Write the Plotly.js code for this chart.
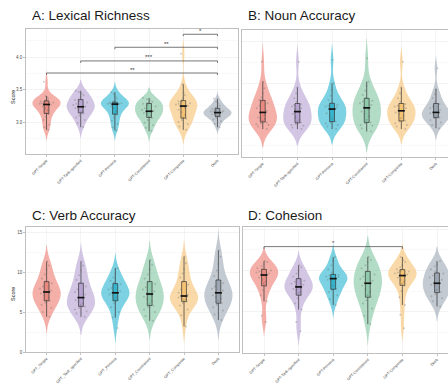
<!DOCTYPE html>
<html><head><meta charset="utf-8">
<script src="https://cdn.plot.ly/plotly-3.0.1.min.js"></script>
<style>html,body{margin:0;padding:0;background:#fff}</style>
</head><body><div id="chart" style="width:448px;height:385px"></div>
<script>
// ---------- categories / tick labels ----------
const groupsDash = ["GPT-Simple","GPT-Task-specified","GPT-Persona","GPT-Constrained","GPT-Composite","Deeb"];
const groupsUnderscore = ["GPT_Simple","GPT_Task_specified","GPT_Persona","GPT_Constrained","GPT_Composite","Deeb"];

// ---------- A: Lexical Richness ----------
const lexSimple = [2.88,2.92,2.96,3.03,3.08,3.12,3.14,3.18,3.21,3.24,3.26,3.27,3.27,3.28,3.29,3.30,3.31,3.32,3.33,3.34,3.36,3.38,3.40,3.62];
const lexTask = [2.92,2.98,3.03,3.07,3.10,3.13,3.15,3.17,3.19,3.21,3.22,3.23,3.24,3.26,3.28,3.30,3.32,3.34,3.35,3.38,3.41,3.44,3.46,3.48];
const lexPersona = [2.87,2.92,2.97,3.02,3.07,3.11,3.13,3.17,3.21,3.24,3.26,3.27,3.28,3.28,3.29,3.29,3.30,3.30,3.31,3.33,3.36,3.39,3.43,3.46];
const lexConstrained = [2.86,2.91,2.95,2.99,3.03,3.06,3.08,3.10,3.12,3.14,3.15,3.16,3.17,3.19,3.21,3.24,3.26,3.28,3.29,3.30,3.31,3.33,3.35,3.37];
const lexComposite = [2.88,2.93,2.97,3.00,3.03,3.05,3.07,3.11,3.15,3.19,3.22,3.24,3.25,3.27,3.28,3.29,3.31,3.32,3.34,3.37,3.41,3.45,3.58,4.05];
const lexDeeb = [2.92,2.97,3.01,3.04,3.06,3.08,3.09,3.10,3.11,3.12,3.13,3.14,3.15,3.16,3.16,3.17,3.18,3.20,3.22,3.23,3.25,3.28,3.31,3.36];

// ---------- B: Noun Accuracy ----------
const nounSimple = [4.5,4.8,5.0,5.1,5.2,5.3,5.5,5.7,5.8,5.9,6.2,6.5,6.7,7.0,7.3,7.6,7.8,8.0,8.3,8.8,9.4,10.2,12.6];
const nounTask = [4.5,4.7,4.9,5.0,5.1,5.3,5.4,5.6,5.9,6.3,6.6,6.8,7.0,7.2,7.4,7.5,7.8,8.2,8.8,9.5,12.6];
const nounPersona = [4.5,4.8,5.0,5.2,5.3,5.4,5.7,5.9,6.1,6.4,6.8,7.0,7.1,7.2,7.3,7.4,7.6,8.0,8.5,9.2,10.0,12.8];
const nounConstrained = [4.2,4.6,4.9,5.0,5.2,5.3,5.6,6.0,6.3,6.6,6.9,7.2,7.4,7.6,7.8,7.9,8.2,8.6,9.1,9.7,10.2,13.0];
const nounComposite = [4.5,4.8,5.0,5.2,5.4,5.5,5.8,6.1,6.3,6.5,6.7,6.9,7.0,7.2,7.3,7.5,7.8,8.2,8.8,9.5,12.6];
const nounDeeb = [4.6,5.0,5.3,5.6,5.8,5.9,6.0,6.1,6.2,6.4,6.5,6.6,6.8,7.0,7.2,7.5,7.8,8.2,8.7,9.3,11.8];

// ---------- C: Verb Accuracy ----------
const verbSimple = [4.4,5.0,5.5,5.9,6.2,6.4,6.5,6.8,7.1,7.3,7.4,7.6,7.7,7.9,8.2,8.6,8.8,9.2,9.7,10.3,10.8,11.3];
const verbTask = [4.4,4.8,5.1,5.3,5.5,5.7,5.9,6.1,6.3,6.5,6.7,6.9,7.2,7.5,7.8,8.2,8.6,9.0,9.6,10.2,10.8,11.3];
const verbPersona = [3.0,4.3,5.0,5.6,6.1,6.5,6.7,6.9,7.0,7.2,7.4,7.5,7.6,7.8,8.0,8.5,8.7,8.9,9.3,9.8,10.5];
const verbConstrained = [3.9,4.5,5.0,5.3,5.6,5.8,6.0,6.3,6.6,6.9,7.1,7.4,7.6,7.8,8.1,8.5,8.8,9.2,9.7,10.3,10.9,11.5];
const verbComposite = [3.2,4.6,5.3,5.8,6.1,6.3,6.5,6.6,6.7,6.8,6.9,7.1,7.2,7.4,7.8,8.4,8.8,9.3,9.8,10.4,11.1,11.9];
const verbDeeb = [4.0,4.7,5.2,5.6,5.9,6.1,6.4,6.7,6.9,7.1,7.3,7.5,7.7,7.9,8.2,8.6,9.0,9.5,10.2,11.0,11.9,12.7];

// ---------- D: Cohesion ----------
const cohSimple = [3.0,3.6,5.0,5.6,6.1,6.5,6.7,6.9,7.1,7.3,7.5,7.6,7.7,7.8,7.9,8.0,8.1,8.2,8.4,8.6,8.8,8.9];
const cohTask = [2.1,3.0,4.2,4.8,5.3,5.6,5.8,5.9,6.1,6.2,6.3,6.5,6.6,6.7,6.9,7.0,7.2,7.4,7.7,8.0,8.3,8.5];
const cohPersona = [4.65,5.2,5.6,5.9,6.1,6.2,6.5,6.8,7.0,7.1,7.2,7.3,7.35,7.4,7.5,7.55,7.8,8.1,8.5,8.9,9.3];
const cohConstrained = [2.8,3.6,4.3,4.8,5.1,5.4,5.6,5.9,6.2,6.5,6.7,6.8,7.0,7.2,7.4,7.6,7.9,8.2,8.5,8.8,9.0,9.3];
const cohComposite = [2.4,3.7,4.65,5.4,6.0,6.5,6.7,6.9,7.1,7.3,7.4,7.5,7.6,7.7,7.8,7.9,8.0,8.1,8.3,8.5,8.8,9.0,9.3];
const cohDeeb = [4.5,5.0,5.3,5.5,5.7,5.9,6.1,6.3,6.5,6.6,6.75,6.9,7.1,7.3,7.5,7.7,7.9,8.1,8.4,8.6,8.9];

// ---------- significance brackets ----------
const sigAFrom = [0,1,2,4];
const sigATo = [5,5,5,5];
const sigALevel = [3.754,3.94,4.15,4.35];
const sigALabel = ["**","***","**","*"];
const sigDFrom = [0];
const sigDTo = [4];
const sigDLevel = [10.3];
const sigDLabel = ["*"];

// ---------- styles ----------
const violinFill = ['rgba(239,141,131,0.7)','rgba(191,174,216,0.7)','rgba(69,191,214,0.7)','rgba(145,205,174,0.7)','rgba(248,201,131,0.7)','rgba(169,179,191,0.7)'];
const boxFill = ['#E98A80','#B7A3D2','#36B5CE','#8FCAAD','#F6C373','#9DA8B4'];
const FONT = 'Liberation Sans, Arial, sans-serif';

const traces = [];
const annotations = [];

function median(arr){
  const s = arr.slice().sort((a,b)=>a-b);
  const n = s.length;
  return n % 2 ? s[(n-1)/2] : (s[n/2-1]+s[n/2])/2;
}

function addPanel(xa, ya, cats, series){
  series.forEach((vals, i) => {
    traces.push({
      type:'violin', xaxis:xa, yaxis:ya,
      x: vals.map(()=>cats[i]), y: vals,
      spanmode:'soft', scalemode:'width', width:0.82,
      fillcolor: violinFill[i],
      line:{color:'rgba(0,0,0,0)', width:0},
      points:'all', pointpos:0, jitter:0.55,
      marker:{size:2, color:'rgba(100,100,100,0.3)', line:{width:0}},
      box:{visible:true, width:0.17, fillcolor: boxFill[i], line:{color:'#333333', width:0.7}},
      meanline:{visible:false},
      hoverinfo:'skip', showlegend:false
    });
  });
  traces.push({
    type:'scatter', mode:'markers', xaxis:xa, yaxis:ya,
    x: cats, y: series.map(median),
    marker:{symbol:'line-ew', size:5, line:{width:1.6, color:'#111'}},
    hoverinfo:'skip', showlegend:false
  });
}

function addBrackets(xa, ya, cats, from, to, level, labels, drop){
  from.forEach((a, k) => {
    const b = to[k], yv = level[k];
    traces.push({
      type:'scatter', mode:'lines', xaxis:xa, yaxis:ya,
      x:[cats[a],cats[a],cats[b],cats[b]],
      y:[yv-drop, yv, yv, yv-drop],
      line:{color:'#555', width:0.8},
      hoverinfo:'skip', showlegend:false
    });
    annotations.push({
      xref: xa, yref: ya, x:(a+b)/2, y:yv, text:labels[k],
      showarrow:false, yanchor:'middle', yshift:3.5,
      font:{family:FONT, size:6, color:'#333'}
    });
  });
}

addPanel('x','y', groupsDash, [lexSimple,lexTask,lexPersona,lexConstrained,lexComposite,lexDeeb]);
addPanel('x2','y2', groupsDash, [nounSimple,nounTask,nounPersona,nounConstrained,nounComposite,nounDeeb]);
addPanel('x3','y3', groupsUnderscore, [verbSimple,verbTask,verbPersona,verbConstrained,verbComposite,verbDeeb]);
addPanel('x4','y4', groupsDash, [cohSimple,cohTask,cohPersona,cohConstrained,cohComposite,cohDeeb]);
addBrackets('x','y', groupsDash, sigAFrom, sigATo, sigALevel, sigALabel, 0.03);
addBrackets('x4','y4', groupsDash, sigDFrom, sigDTo, sigDLevel, sigDLabel, 0.22);

const titles = [
  {text:'A: Lexical Richness', x:30, y:15.5},
  {text:'B: Noun Accuracy', x:245.5, y:15.5},
  {text:'C: Verb Accuracy', x:30, y:215},
  {text:'D: Cohesion', x:245.5, y:215}
];
titles.forEach(t => annotations.push({
  xref:'paper', yref:'paper', x:t.x/448, y:1-t.y/385, xanchor:'left', yanchor:'middle',
  text:t.text, showarrow:false, font:{family:FONT, size:13.5, color:'#1a1a1a'}
}));
[{y:97},{y:294}].forEach(s => annotations.push({
  xref:'paper', yref:'paper', x:13/448, y:1-s.y/385, xanchor:'center', yanchor:'middle',
  text:'Score', textangle:-90, showarrow:false, font:{family:FONT, size:5.5, color:'#222'}
}));

function xAxis(dom, rng, cats, anchor){
  return {domain:dom, range:rng, type:'category', categoryorder:'array', categoryarray:cats,
    anchor:anchor, tickangle:-45, tickfont:{family:FONT, size:3.8, color:'#4d4d4d'},
    ticks:'outside', ticklen:2, tickcolor:'#999', tickwidth:0.6,
    showgrid:true, gridcolor:'#ececec', gridwidth:0.6,
    showline:true, mirror:true, linecolor:'#b8b8b8', linewidth:0.9,
    zeroline:false, fixedrange:true, automargin:false};
}
function yAxis(dom, rng, dtick, minor, anchor, labels){
  return {domain:dom, range:rng, anchor:anchor, dtick:dtick, tick0:0,
    showticklabels:labels, tickfont:{family:FONT, size:4.5, color:'#4d4d4d'},
    ticks: labels ? 'outside' : '', ticklen:2, tickcolor:'#999', tickwidth:0.6,
    showgrid:true, gridcolor:'#ebebeb', gridwidth:0.6,
    minor:{dtick:minor, tick0:0, showgrid:true, gridcolor:'#f3f3f3', gridwidth:0.5, ticks:''},
    showline:true, mirror:true, linecolor:'#b8b8b8', linewidth:0.9,
    zeroline:false, fixedrange:true, automargin:false, tickformat: dtick < 1 ? '.1f' : ''};
}

const layout = {
  width:448, height:385, margin:{l:0,r:0,t:0,b:0,pad:0},
  paper_bgcolor:'#fff', plot_bgcolor:'#fff', autosize:false,
  violinmode:'overlay', showlegend:false, hovermode:false,
  font:{family:FONT},
  xaxis: xAxis([26/448, 238/448], [-0.6, 5.6], groupsDash, 'y'),
  yaxis: yAxis([1-154/385, 1-29/385], [2.508, 4.431], 0.5, 0.25, 'x', true),
  xaxis2: xAxis([242/448, 1], [-0.6, 5.347], groupsDash, 'y2'),
  yaxis2: yAxis([1-157/385, 1-30/385], [1.142, 16.41], 5, 2.5, 'x2', false),
  xaxis3: xAxis([26/448, 239/448], [-0.6, 5.6], groupsUnderscore, 'y3'),
  yaxis3: yAxis([1-352/385, 1-227/385], [0, 15.625], 5, 2.5, 'x3', true),
  xaxis4: xAxis([243/448, 1], [-0.607, 5.318], groupsDash, 'y4'),
  yaxis4: yAxis([1-353/385, 1-227/385], [0, 12.2], 4, 2, 'x4', false),
  annotations: annotations
};

Plotly.newPlot('chart', traces, layout, {staticPlot:true, displayModeBar:false});
</script>
</body></html>
